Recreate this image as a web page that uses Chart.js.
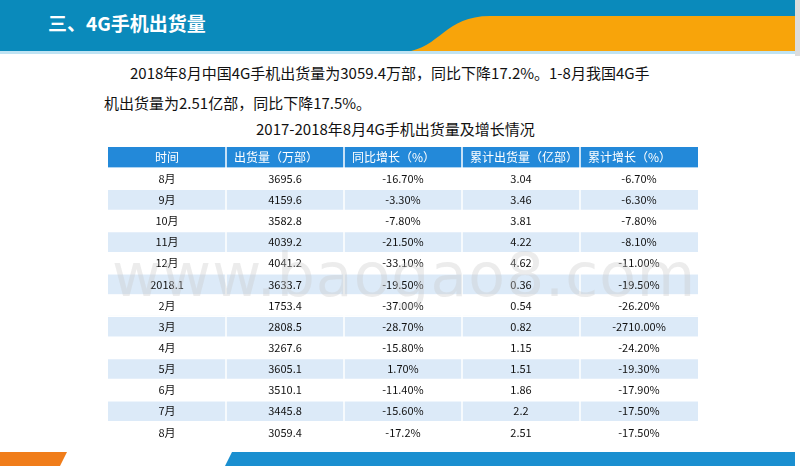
<!DOCTYPE html>
<html><head><meta charset="utf-8">
<script src="https://cdn.jsdelivr.net/npm/chart.js@4"></script>
<style>
body{margin:0;width:800px;height:474px;overflow:hidden;background:#fff;font-family:"Noto Sans CJK SC",sans-serif;position:relative}
.ban{position:absolute;left:0;top:0;width:800px;height:52px;background:#0a8abb}
.title{position:absolute;left:48px;top:9px;color:#fff;font-size:19px;font-weight:bold}
.p{position:absolute;font-size:15px;color:#111;white-space:nowrap}
#wrap{position:absolute;left:108px;top:147px;width:590px;height:296px}
</style></head><body>
<div class="ban"></div>
<svg style="position:absolute;left:0;top:0" width="800" height="56">
<path d="M405 52 C440 48 445 16 490 16 L795 16 L795 52 Z" fill="#f8a40a"/>
<rect x="0" y="51" width="800" height="3" fill="#bfe3f3"/>
<rect x="795" y="0" width="5" height="474" fill="#ddd"/>
</svg>
<div class="title">三、4G手机出货量</div>
<div class="p" style="left:130px;top:62px">2018年8月中国4G手机出货量为3059.4万部，同比下降17.2%。1-8月我国4G手</div>
<div class="p" style="left:104px;top:92px">机出货量为2.51亿部，同比下降17.5%。</div>
<div class="p" style="left:256px;top:118px">2017-2018年8月4G手机出货量及增长情况</div>
<div id="wrap"><canvas id="c"></canvas></div>
<svg style="position:absolute;left:0;top:0" width="800" height="474">
<polygon points="0,452 67,452 60,466 0,466" fill="#f07d1a"/>
<polygon points="232,452 795,452 795,466 225,466" fill="#1a8fd0"/>
</svg>
<div style="position:absolute;left:112px;top:240px;font-size:60px;color:rgba(200,200,200,0.35);font-family:'DejaVu Sans';letter-spacing:1px">www.baogao8.com</div>
<script>
const headers=["时间","出货量（万部）","同比增长（%）","累计出货量（亿部）","累计增长（%）"];
const months=["8月","9月","10月","11月","12月","2018.1","2月","3月","4月","5月","6月","7月","8月"];
const shipments=["3695.6","4159.6","3582.8","4039.2","4041.2","3633.7","1753.4","2808.5","3267.6","3605.1","3510.1","3445.8","3059.4"];
const yoy=["-16.70%","-3.30%","-7.80%","-21.50%","-33.10%","-19.50%","-37.00%","-28.70%","-15.80%","1.70%","-11.40%","-15.60%","-17.2%"];
const cumShip=["3.04","3.46","3.81","4.22","4.62","0.36","0.54","0.82","1.15","1.51","1.86","2.2","2.51"];
const cumGrowth=["-6.70%","-6.30%","-7.80%","-8.10%","-11.00%","-19.50%","-26.20%","-2710.00%","-24.20%","-19.30%","-17.90%","-17.50%","-17.50%"];
const rows=["header",...months.map((m,i)=>"r"+i)];
const cols=[months,shipments,yoy,cumShip,cumGrowth];
const bg=rows.map((r,i)=>i===0?"#2389d9":(i%2===0?"#dceaf8":"#ffffff"));
const tablePlugin={id:"tbl",afterDatasetsDraw(ch){
 const ctx=ch.ctx,x=ch.scales.x,y=ch.scales.y;
 const rowH=Math.abs(y.getPixelForValue(1)-y.getPixelForValue(0));
 ctx.save();ctx.strokeStyle="#ffffff";ctx.lineWidth=1.5;
 for(let c=1;c<5;c++){const px=x.getPixelForValue(c);ctx.beginPath();ctx.moveTo(px,y.top);ctx.lineTo(px,y.bottom);ctx.stroke();}
 for(let r=1;r<rows.length;r++){const py=y.getPixelForValue(r)-rowH/2;ctx.beginPath();ctx.moveTo(x.left,py);ctx.lineTo(x.right,py);ctx.stroke();}
 ctx.textBaseline="middle";ctx.font="12px 'Noto Sans CJK SC'";
 headers.forEach((h,c)=>{ctx.fillStyle="#fff";const py=y.getPixelForValue(0);
  if(c===0){ctx.textAlign="center";ctx.fillText(h,(x.getPixelForValue(0)+x.getPixelForValue(1))/2,py);}
  else{ctx.textAlign="left";ctx.fillText(h,x.getPixelForValue(c)+8,py);}});
 ctx.font="11px 'Noto Sans CJK SC'";ctx.fillStyle="#111";ctx.textAlign="center";
 cols.forEach((col,c)=>col.forEach((v,i)=>{ctx.fillText(v,(x.getPixelForValue(c)+x.getPixelForValue(c+1))/2,y.getPixelForValue(i+1));}));
 ctx.restore();}};
new Chart(document.getElementById("c"),{type:"bar",
 data:{labels:rows,datasets:[{data:rows.map(()=>[0,5]),backgroundColor:bg,barPercentage:1,categoryPercentage:1}]},
 options:{indexAxis:"y",responsive:true,maintainAspectRatio:false,animation:false,
  layout:{padding:0},plugins:{legend:{display:false},tooltip:{enabled:false}},
  scales:{x:{type:"linear",min:0,max:5,display:false},y:{display:false}}},
 plugins:[tablePlugin]});
</script></body></html>
